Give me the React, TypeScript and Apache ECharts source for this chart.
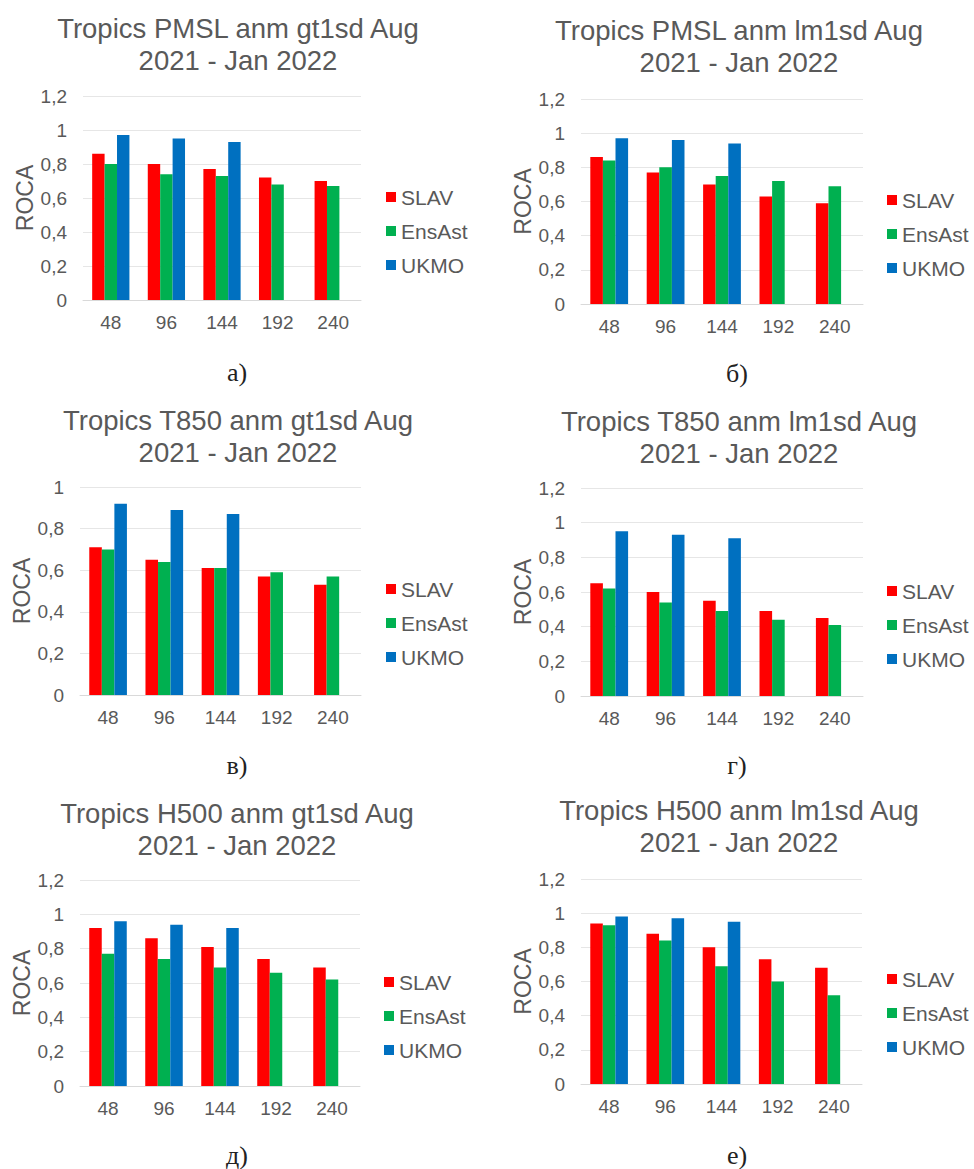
import React, { useEffect, useRef } from "react";
import * as echarts from "echarts";

// ---- data ----
const categories = ["48", "96", "144", "192", "240"];
const seriesNames = ["SLAV", "EnsAst", "UKMO"];
const captions = ["а)", "б)", "в)", "г)", "д)", "е)"];
const titles = [
  "Tropics PMSL anm gt1sd Aug\n2021 - Jan 2022",
  "Tropics PMSL anm lm1sd Aug\n2021 - Jan 2022",
  "Tropics T850 anm gt1sd Aug\n2021 - Jan 2022",
  "Tropics T850 anm lm1sd Aug\n2021 - Jan 2022",
  "Tropics H500 anm gt1sd Aug\n2021 - Jan 2022",
  "Tropics H500 anm lm1sd Aug\n2021 - Jan 2022",
];
const yMax = [1.2, 1.2, 1, 1.2, 1.2, 1.2];

// а) PMSL gt1sd
const pmslGtSLAV = [0.86, 0.8, 0.77, 0.72, 0.7];
const pmslGtEnsAst = [0.8, 0.74, 0.73, 0.68, 0.67];
const pmslGtUKMO = [0.97, 0.95, 0.93, null, null];
// б) PMSL lm1sd
const pmslLmSLAV = [0.86, 0.77, 0.7, 0.63, 0.59];
const pmslLmEnsAst = [0.84, 0.8, 0.75, 0.72, 0.69];
const pmslLmUKMO = [0.97, 0.96, 0.94, null, null];
// в) T850 gt1sd
const t850GtSLAV = [0.71, 0.65, 0.61, 0.57, 0.53];
const t850GtEnsAst = [0.7, 0.64, 0.61, 0.59, 0.57];
const t850GtUKMO = [0.92, 0.89, 0.87, null, null];
// г) T850 lm1sd
const t850LmSLAV = [0.65, 0.6, 0.55, 0.49, 0.45];
const t850LmEnsAst = [0.62, 0.54, 0.49, 0.44, 0.41];
const t850LmUKMO = [0.95, 0.93, 0.91, null, null];
// д) H500 gt1sd
const h500GtSLAV = [0.92, 0.86, 0.81, 0.74, 0.69];
const h500GtEnsAst = [0.77, 0.74, 0.69, 0.66, 0.62];
const h500GtUKMO = [0.96, 0.94, 0.92, null, null];
// е) H500 lm1sd
const h500LmSLAV = [0.94, 0.88, 0.8, 0.73, 0.68];
const h500LmEnsAst = [0.93, 0.84, 0.69, 0.6, 0.52];
const h500LmUKMO = [0.98, 0.97, 0.95, null, null];

const panelData = [
  [pmslGtSLAV, pmslGtEnsAst, pmslGtUKMO],
  [pmslLmSLAV, pmslLmEnsAst, pmslLmUKMO],
  [t850GtSLAV, t850GtEnsAst, t850GtUKMO],
  [t850LmSLAV, t850LmEnsAst, t850LmUKMO],
  [h500GtSLAV, h500GtEnsAst, h500GtUKMO],
  [h500LmSLAV, h500LmEnsAst, h500LmUKMO],
];

// ---- layout / style ----
const FONT = "'Liberation Sans', Arial, Helvetica, sans-serif";
const SERIF = "'Liberation Serif', 'Times New Roman', serif";
const TEXT = "#595959";
const COLORS = ["#FF0000", "#00B050", "#0070C0"];

const layouts = [
  { grid: { left: 83, top: 96, width: 278, height: 204 }, tx: 238, ty: 44, lx: 386, ly: 186.5, cx: 237, cy: 372 },
  { grid: { left: 581, top: 99, width: 282, height: 205 }, tx: 739, ty: 46.5, lx: 887, ly: 189.5, cx: 737, cy: 373 },
  { grid: { left: 80, top: 487, width: 281, height: 208 }, tx: 238, ty: 436, lx: 386, ly: 578.5, cx: 237, cy: 765 },
  { grid: { left: 581, top: 488, width: 282, height: 208 }, tx: 739, ty: 437.5, lx: 887, ly: 580.5, cx: 737, cy: 765 },
  { grid: { left: 80, top: 880, width: 280, height: 206 }, tx: 237, ty: 829.5, lx: 384, ly: 971.5, cx: 237, cy: 1155 },
  { grid: { left: 581, top: 879, width: 281, height: 205 }, tx: 739, ty: 826, lx: 887, ly: 968.5, cx: 737, cy: 1155 },
];

function buildOption() {
  const grid: any[] = [];
  const xAxis: any[] = [];
  const yAxis: any[] = [];
  const legend: any[] = [];
  const series: any[] = [];
  const graphic: any[] = [];

  layouts.forEach((L, i) => {
    grid.push({ ...L.grid, containLabel: false });
    xAxis.push({
      type: "category",
      gridIndex: i,
      data: categories,
      axisTick: { show: false },
      axisLine: { lineStyle: { color: "#d9d9d9", width: 1 } },
      axisLabel: { color: TEXT, fontSize: 19, fontFamily: FONT, margin: 13 },
    });
    yAxis.push({
      type: "value",
      gridIndex: i,
      min: 0,
      max: yMax[i],
      interval: 0.2,
      name: "ROCA",
      nameLocation: "middle",
      nameRotate: 90,
      nameGap: 46,
      nameTextStyle: { color: TEXT, fontSize: 23, fontFamily: FONT },
      axisLine: { show: false },
      axisTick: { show: false },
      splitLine: { lineStyle: { color: "#e6e6e6", width: 1 } },
      axisLabel: {
        color: TEXT,
        fontSize: 19,
        fontFamily: FONT,
        margin: 16,
        formatter: (v: number) => String(+v.toFixed(1)).replace(".", ","),
      },
    });
    legend.push({
      orient: "vertical",
      left: L.lx,
      top: L.ly,
      padding: 0,
      itemGap: 13,
      itemWidth: 10,
      itemHeight: 10,
      icon: "rect",
      data: seriesNames,
      textStyle: { color: TEXT, fontSize: 21, fontFamily: FONT },
    });
    seriesNames.forEach((name, k) => {
      series.push({
        type: "bar",
        name,
        xAxisIndex: i,
        yAxisIndex: i,
        data: panelData[i][k],
        barGap: "0%",
        barCategoryGap: "33%",
        itemStyle: { color: COLORS[k] },
      });
    });
    graphic.push({
      type: "text",
      x: L.tx,
      y: L.ty,
      style: {
        text: titles[i],
        fill: TEXT,
        fontSize: 27.5,
        fontFamily: FONT,
        lineHeight: 32,
        textAlign: "center",
        textVerticalAlign: "middle",
      },
    });
    graphic.push({
      type: "text",
      x: L.cx,
      y: L.cy,
      style: {
        text: captions[i],
        fill: "#222222",
        fontSize: 26,
        fontFamily: SERIF,
        textAlign: "center",
        textVerticalAlign: "middle",
      },
    });
  });

  return {
    animation: false,
    backgroundColor: "#ffffff",
    grid,
    xAxis,
    yAxis,
    legend,
    series,
    graphic,
  };
}

export default function App() {
  const ref = useRef<HTMLDivElement>(null);
  useEffect(() => {
    if (!ref.current) return;
    const chart = echarts.init(ref.current, null, { renderer: "svg" });
    chart.setOption(buildOption() as any);
    return () => chart.dispose();
  }, []);
  return (
    <div
      ref={ref}
      style={{ position: "absolute", left: 0, top: 0, width: 974, height: 1169 }}
    />
  );
}
